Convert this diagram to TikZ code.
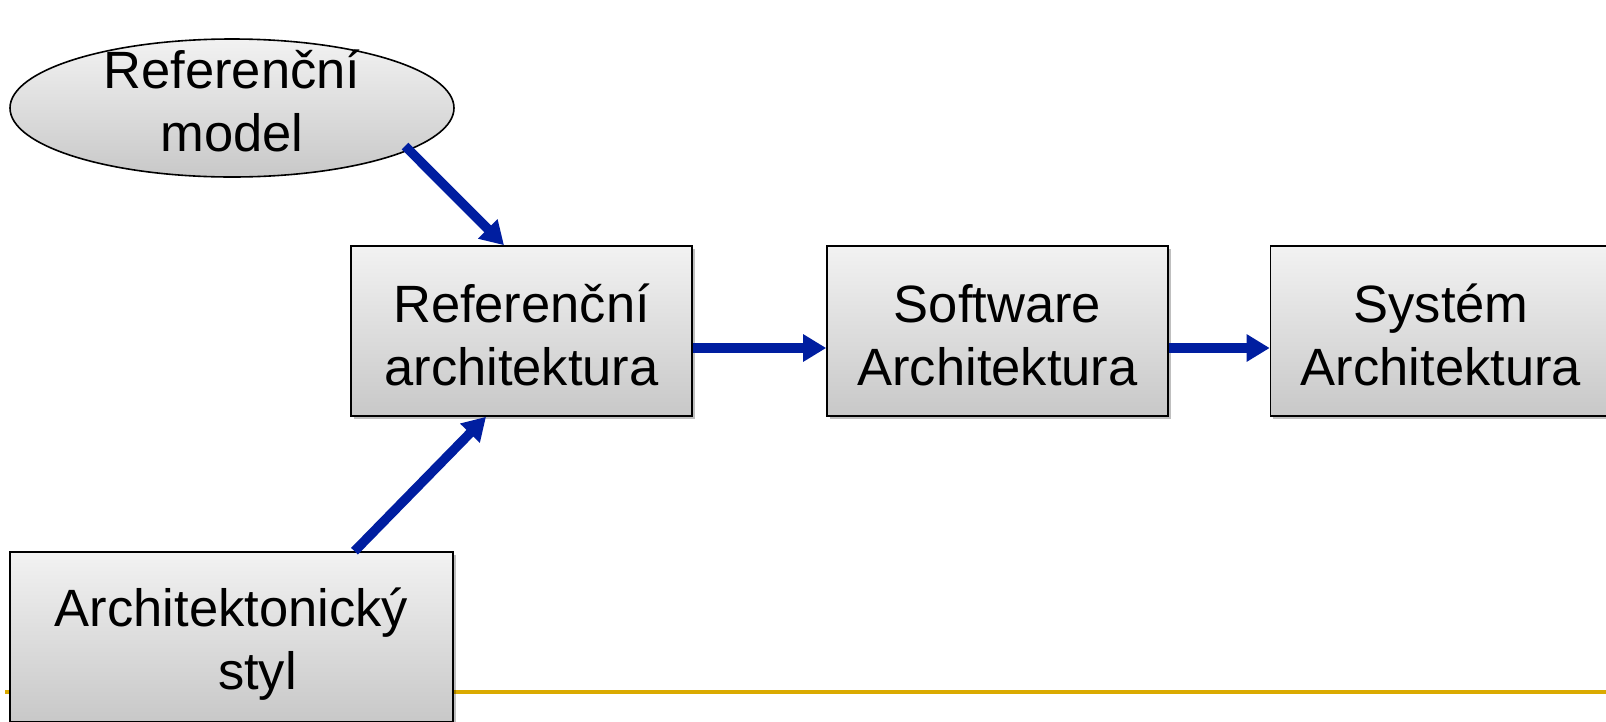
\documentclass[tikz,border=0pt]{standalone}
\usepackage{fontspec}
\setmainfont{Liberation Sans}
\usetikzlibrary{shapes.geometric,arrows.meta,shadows}
\definecolor{boxtop}{RGB}{242,242,242}
\definecolor{boxbot}{RGB}{200,200,200}
\definecolor{arrblue}{RGB}{0,30,160}
\definecolor{rule}{RGB}{218,170,0}
\tikzset{
  box/.style={rectangle, draw=black, line width=1.6pt, top color=boxtop, bottom color=boxbot,
    minimum width=341pt, minimum height=170pt, inner sep=0pt,
    drop shadow={shadow xshift=2.5pt, shadow yshift=-3pt, fill=black, opacity=0.25}},
  oval/.style={ellipse, draw=black, line width=1.6pt, top color=boxtop, bottom color=boxbot,
    minimum width=444pt, minimum height=138pt, inner sep=0pt},
  txt/.style={align=center, inner sep=0pt, font=\fontsize{52.5}{63}\selectfont},
  arr/.style={draw=arrblue, line width=9.5pt, -{Triangle[length=23pt,width=26pt]}, color=arrblue}
}
\begin{document}
\begin{tikzpicture}[x=1pt,y=-1pt]
\useasboundingbox (0,0) rectangle (1606,721);
\clip (0,0) rectangle (1606,721);
\fill[white] (0,0) rectangle (1606,721);
\coordinate (rl) at (5,692);
\coordinate (rr) at (1606,692);
\draw[rule, line width=3.5pt] (rl) -- (rr);
\node[oval] (m) at (232,108) {};
\node[txt] (mt) at (232,101) {Referenční\\model};
\node[box] (ra) at (521.5,331) {};
\node[txt] (rat) at (521.5,335) {Referenční\\architektura};
\node[box] (sa) at (997.5,331) {};
\node[txt] (sat) at (997.5,335) {Software\\Architektura};
\node[box] (sy) at (1441,331) {};
\node[txt] (syt) at (1441,335) {Systém\\Architektura};
\node[box, minimum width=443pt] (st) at (231.5,637) {};
\node[txt] (stt) at (231.5,644) {Architektonický\\\hspace*{52pt}styl};
\draw[arr] ([shift={(173,38)}]m.center) -- ([xshift=-17.5pt]ra.north);
\draw[arr] ([yshift=-17pt]ra.east) -- ([yshift=-17pt]sa.west);
\draw[arr] ([yshift=-17pt]sa.east) -- ([yshift=-17pt]sy.west);
\draw[arr] ([xshift=123pt]st.north) -- ([xshift=-35.5pt]ra.south);
\end{tikzpicture}
\end{document}
